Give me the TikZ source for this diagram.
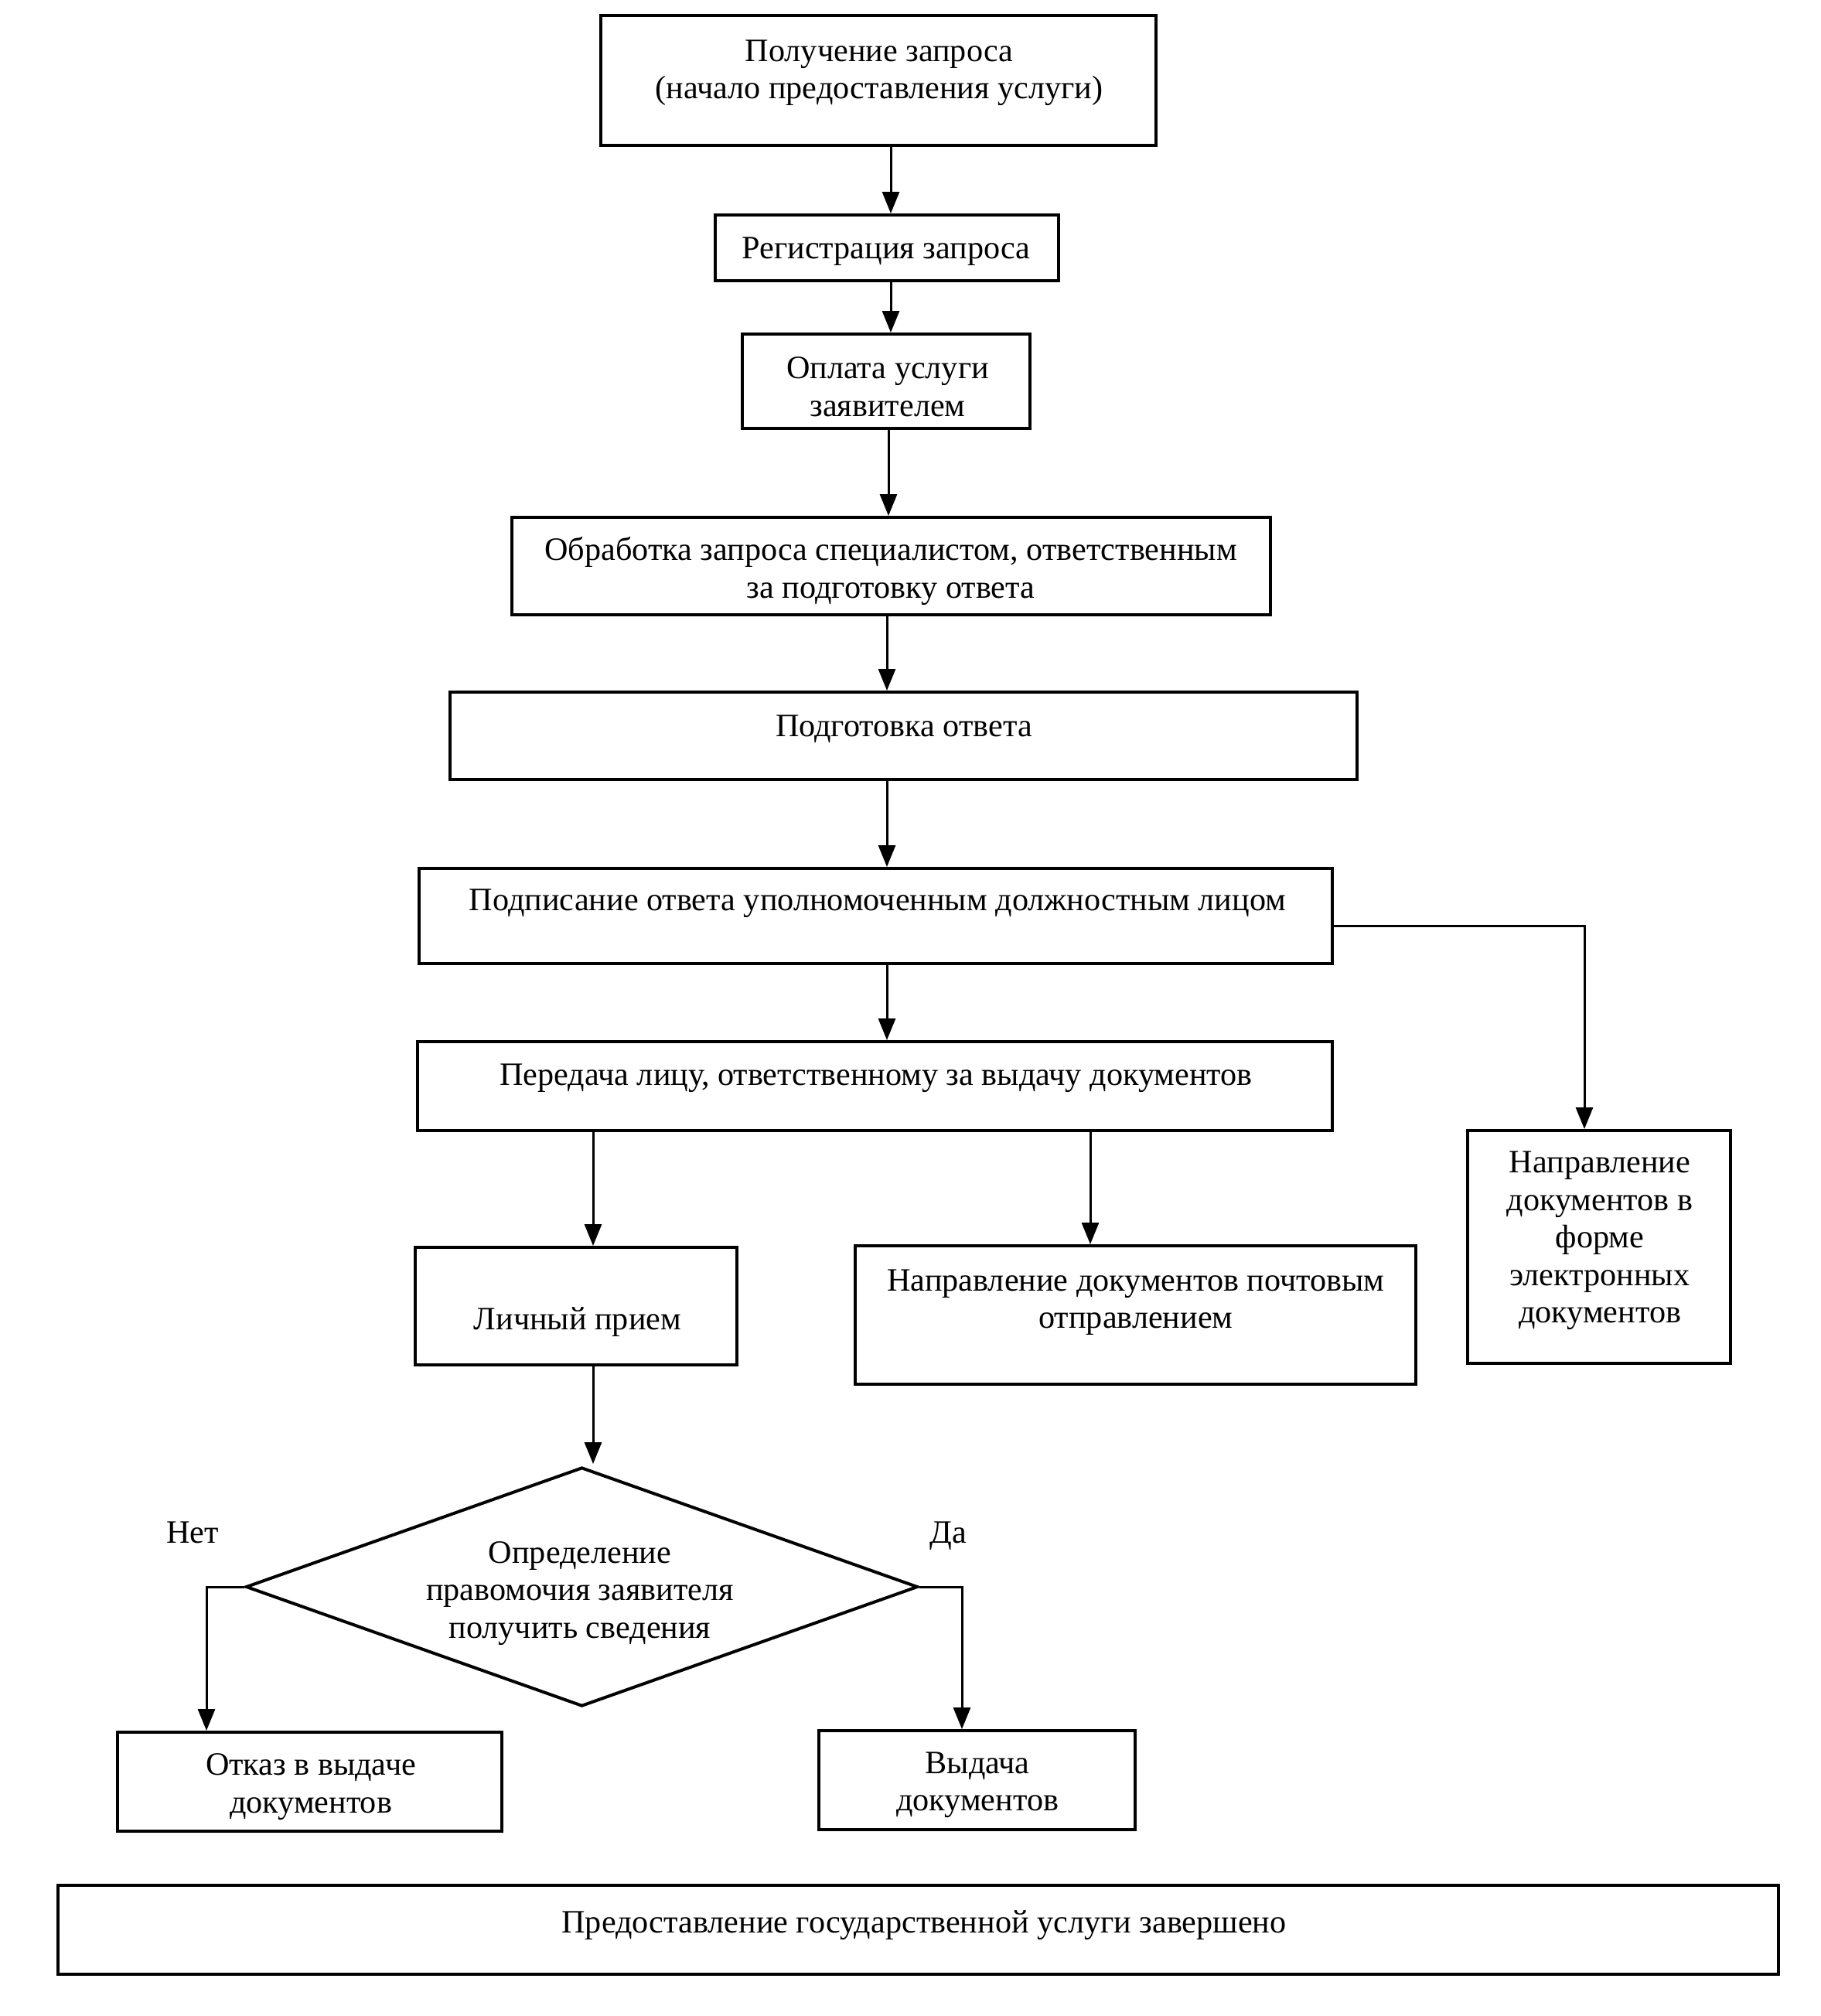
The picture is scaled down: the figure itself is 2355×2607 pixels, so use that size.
\documentclass[tikz,border=0pt]{standalone}
\usepackage{fontspec}
\setmainfont{Liberation Serif}
\usetikzlibrary{arrows.meta,shapes.geometric,fit}
\begin{document}
\begin{tikzpicture}[x=0.25pt,y=-0.25pt,
  boxst/.style={draw,line width=1pt,inner sep=0pt,rectangle},
  dia/.style={draw,line width=1pt,diamond,inner sep=0pt,minimum width=217.25pt,minimum height=77.25pt},
  txt/.style={align=center,inner sep=0pt,yshift=-1.1pt,font=\fontsize{10.55pt}{12.1pt}\selectfont},
  arr/.style={line width=0.75pt,-{Triangle[length=7pt,width=5.5pt]}},
  ln/.style={line width=0.75pt}]
\useasboundingbox (0,0) rectangle (2355,2607);
% boxes
\node[boxst,fit={(777,20) (1495,188)}] (b1) {};
\node[boxst,fit={(925,278) (1369,363)}] (b2) {};
\node[boxst,fit={(960,432) (1332,554)}] (b3) {};
\node[boxst,fit={(662,669) (1643,795)}] (b4) {};
\node[boxst,fit={(582,895) (1755,1008)}] (b5) {};
\node[boxst,fit={(542,1123) (1723,1246)}] (b6) {};
\node[boxst,fit={(540,1347) (1723,1462)}] (b7) {};
\node[boxst,fit={(537,1613) (953,1765)}] (b8) {};
\node[boxst,fit={(1106,1611) (1831,1790)}] (b9) {};
\node[boxst,fit={(1898,1462) (2238,1763)}] (b10) {};
\node[dia] (d) at (752.5,2052) {};
\node[boxst,fit={(152,2240) (649,2368)}] (otk) {};
\node[boxst,fit={(1059,2238) (1468,2366)}] (vyd) {};
\node[boxst,fit={(75,2438) (2300,2553)}] (fin) {};
% texts
\node[txt] (t1) at (1137,90) {Получение запроса\\(начало предоставления услуги)};
\node[txt] (t2) at (1146,321) {Регистрация запроса};
\node[txt] (t3) at (1148,496) {Оплата услуги\\заявителем};
\node[txt] (t4) at (1152,734) {Обработка запроса специалистом, ответственным\\за подготовку ответа};
\node[txt] (t5) at (1169,938) {Подготовка ответа};
\node[txt] (t6) at (1135,1164) {Подписание ответа уполномоченным должностным лицом};
\node[txt] (t7) at (1133,1390) {Передача лицу, ответственному за выдачу документов};
\node[txt] (t8) at (747,1705) {Личный прием};
\node[txt] (t9) at (1469,1680) {Направление документов почтовым\\отправлением};
\node[txt] (t10) at (2069,1600) {Направление\\документов в\\форме\\электронных\\документов};
\node[txt] (td) at (750,2056) {Определение\\правомочия заявителя\\получить сведения};
\node[txt] (totk) at (402,2306) {Отказ в выдаче\\документов};
\node[txt] (tvyd) at (1264,2304) {Выдача\\документов};
\node[txt] (tfin) at (1195,2485) {Предоставление государственной услуги завершено};
\node[txt] (net) at (249,1977) {Нет};
\node[txt] (da) at (1226,1982) {Да};
% helper coordinates
\coordinate (x1) at (1152,0);
\coordinate (x2) at (1149,0);
\coordinate (x3) at (1147,0);
\coordinate (x4) at (767,0);
\coordinate (x5) at (1410,0);
\coordinate (x6) at (2049,0);
\coordinate (y6) at (0,1197);
\coordinate (nx) at (267,0);
\coordinate (dx) at (1244,0);
\coordinate (dtop) at (767,1893);
% connectors
\draw[arr] (b1.south -| x1) -- (b2.north -| x1);
\draw[arr] (b2.south -| x1) -- (b3.north -| x1);
\draw[arr] (b3.south -| x2) -- (b4.north -| x2);
\draw[arr] (b4.south -| x3) -- (b5.north -| x3);
\draw[arr] (b5.south -| x3) -- (b6.north -| x3);
\draw[arr] (b6.south -| x3) -- (b7.north -| x3);
\draw[arr] (b7.south -| x4) -- (b8.north -| x4);
\draw[arr] (b7.south -| x5) -- (b9.north -| x5);
\draw[arr] (b6.east |- y6) -- (x6 |- y6) -- (b10.north -| x6);
\draw[arr] (b8.south -| x4) -- (dtop);
\draw[arr] (d.west) -- (d.west -| nx) -- (otk.north -| nx);
\draw[arr] (d.east) -- (d.east -| dx) -- (vyd.north -| dx);
\end{tikzpicture}
\end{document}
